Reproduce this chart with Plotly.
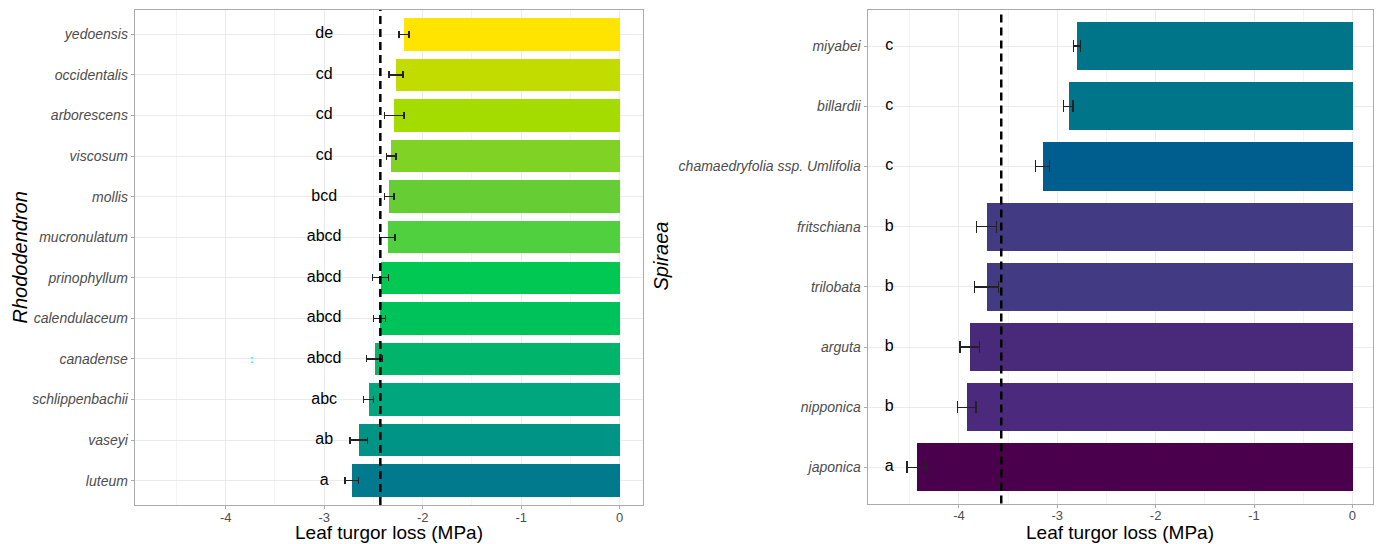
import plotly.graph_objects as go

# ---------------- data ----------------
rhodo_species = ["yedoensis", "occidentalis", "arborescens", "viscosum", "mollis",
                 "mucronulatum", "prinophyllum", "calendulaceum", "canadense",
                 "schlippenbachii", "vaseyi", "luteum"]
rhodo_tlp = [-2.19, -2.27, -2.29, -2.32, -2.34, -2.36, -2.43, -2.44, -2.49, -2.55, -2.65, -2.72]
rhodo_se = [0.05, 0.07, 0.10, 0.05, 0.05, 0.08, 0.08, 0.06, 0.08, 0.05, 0.09, 0.07]
rhodo_letters = ["de", "cd", "cd", "cd", "bcd", "abcd", "abcd", "abcd", "abcd", "abc", "ab", "a"]
rhodo_colors = ["#FFE400", "#C3DC00", "#A4DC00", "#80D225", "#66CD35", "#50D03E",
                "#00C853", "#00C25A", "#00B46C", "#00A67E", "#009487", "#007A8C"]
rhodo_mean = -2.43

spir_species = ["miyabei", "billardii", "chamaedryfolia ssp. Umlifolia", "fritschiana",
                "trilobata", "arguta", "nipponica", "japonica"]
spir_tlp = [-2.80, -2.89, -3.15, -3.72, -3.72, -3.89, -3.92, -4.43]
spir_se = [0.035, 0.05, 0.07, 0.10, 0.125, 0.10, 0.095, 0.10]
spir_letters = ["c", "c", "c", "b", "b", "b", "b", "a"]
spir_colors = ["#00758A", "#00758A", "#005E8E", "#433A84", "#433A84", "#48297A", "#4B2A7E", "#4A004C"]
spir_mean = -3.57

x_ticks = [-4, -3, -2, -1, 0]

# ---------------- styling constants ----------------
FONT = "Liberation Sans, Arial, sans-serif"
W, H = 1380, 544
LEFT_LETTER_X = -3.0
RIGHT_LETTER_X = -4.71

fig = go.Figure()

fig.add_trace(go.Bar(
    x=rhodo_tlp, y=rhodo_species, orientation="h", width=0.8,
    marker=dict(color=rhodo_colors, line=dict(width=0)),
    error_x=dict(type="data", array=rhodo_se, color="#222222", thickness=1.4, width=3.5),
    xaxis="x", yaxis="y", showlegend=False, hoverinfo="x+y"))
fig.add_trace(go.Scatter(
    x=[LEFT_LETTER_X] * len(rhodo_species), y=rhodo_species, mode="text",
    text=rhodo_letters, textfont=dict(family=FONT, size=16, color="#000000"),
    xaxis="x", yaxis="y", showlegend=False, hoverinfo="skip"))

fig.add_trace(go.Bar(
    x=spir_tlp, y=spir_species, orientation="h", width=0.8,
    marker=dict(color=spir_colors, line=dict(width=0)),
    error_x=dict(type="data", array=spir_se, color="#222222", thickness=1.4, width=6),
    xaxis="x2", yaxis="y2", showlegend=False, hoverinfo="x+y"))
fig.add_trace(go.Scatter(
    x=[RIGHT_LETTER_X] * len(spir_species), y=spir_species, mode="text",
    text=spir_letters, textfont=dict(family=FONT, size=16, color="#000000"),
    xaxis="x2", yaxis="y2", showlegend=False, hoverinfo="skip"))


def xaxis_style(domain, rng):
    return dict(domain=domain, range=rng, tickvals=x_ticks, ticktext=[str(v) for v in x_ticks],
                showgrid=True, gridcolor="#EBEBEB", gridwidth=1,
                minor=dict(dtick=0.5, tick0=0, showgrid=True, gridcolor="#F4F4F4", gridwidth=1),
                zeroline=False, showline=True, mirror=True, linecolor="#ABABAB", linewidth=1,
                ticks="outside", ticklen=3, tickcolor="#ABABAB", automargin=False,
                ticklabelstandoff=-3,
                tickfont=dict(family=FONT, size=13, color="#4D4D4D"), fixedrange=True)


def yaxis_style(domain, cats, anchor):
    return dict(domain=domain, type="category", categoryorder="array", categoryarray=cats,
                range=[len(cats) - 1 + 0.6, -0.6], anchor=anchor,
                showgrid=True, gridcolor="#EBEBEB", gridwidth=1, zeroline=False,
                showline=True, mirror=True, linecolor="#ABABAB", linewidth=1,
                ticks="outside", ticklen=3, tickcolor="#ABABAB", automargin=False,
                tickfont=dict(family=FONT, size=14, color="#4D4D4D", style="italic"),
                fixedrange=True)


fig.update_layout(
    width=W, height=H, margin=dict(l=0, r=0, t=0, b=0, autoexpand=False),
    paper_bgcolor="white", plot_bgcolor="white",
    xaxis=xaxis_style([134.7 / W, 642.7 / W], [-4.924, 0.234]) | dict(anchor="y"),
    yaxis=yaxis_style([1 - 505 / H, 1 - 10 / H], rhodo_species, "x"),
    xaxis2=xaxis_style([867.5 / W, 1373 / W], [-4.93, 0.21]) | dict(anchor="y2"),
    yaxis2=yaxis_style([1 - 503.5 / H, 1 - 10 / H], spir_species, "x2"),
    bargap=0,
)

# dashed mean lines
fig.add_shape(type="line", xref="x", yref="y domain", x0=rhodo_mean, x1=rhodo_mean, y0=0, y1=1,
              line=dict(color="#000000", width=2.5, dash="8px,5px"))
fig.add_shape(type="line", xref="x2", yref="y2 domain", x0=spir_mean, x1=spir_mean, y0=0, y1=1,
              line=dict(color="#000000", width=2.5, dash="8px,5px"))

# axis titles
fig.add_annotation(text="Leaf turgor loss (MPa)", xref="paper", yref="paper",
                   x=388.7 / W, y=0, showarrow=False, xanchor="center", yanchor="bottom",
                   borderpad=0, font=dict(family=FONT, size=19, color="#000000"))
fig.add_annotation(text="Leaf turgor loss (MPa)", xref="paper", yref="paper",
                   x=1120 / W, y=0, showarrow=False, xanchor="center", yanchor="bottom",
                   borderpad=0, font=dict(family=FONT, size=19, color="#000000"))
fig.add_annotation(text="<i>Rhododendron</i>", xref="paper", yref="paper",
                   x=19 / W, y=1 - 257.5 / H, showarrow=False, textangle=-90,
                   xanchor="center", yanchor="middle",
                   font=dict(family=FONT, size=20, color="#000000"))
fig.add_annotation(text="<i>Spiraea</i>", xref="paper", yref="paper",
                   x=661 / W, y=1 - 256.5 / H, showarrow=False, textangle=-90,
                   xanchor="center", yanchor="middle",
                   font=dict(family=FONT, size=20, color="#000000"))

# small cyan artefact near canadense
fig.add_annotation(text="<b>:</b>", xref="x", yref="y", x=-3.73, y="canadense", showarrow=False,
                   font=dict(family=FONT, size=11, color="#22E5F0"))

fig.write_html("out.html", config={"displayModeBar": False},
               post_script="document.body.style.margin='0';document.body.style.padding='0';"
                           "document.body.style.overflow='hidden';")
